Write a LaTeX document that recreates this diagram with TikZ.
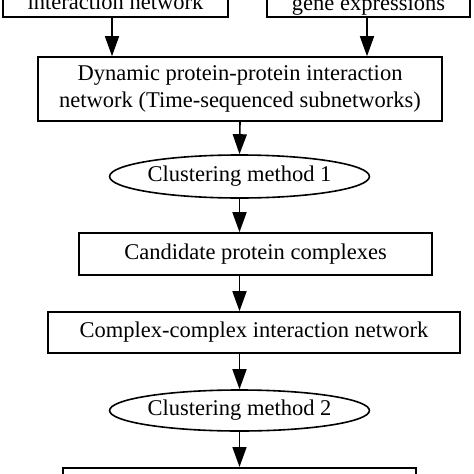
\documentclass[tikz,border=0pt]{standalone}
\usepackage{fontspec}
\setmainfont{Liberation Serif}
\usetikzlibrary{shapes.geometric,arrows.meta}
\begin{document}
\begin{tikzpicture}[x=1pt,y=-1pt,
  font=\fontsize{22.5}{27}\selectfont,
  box/.style={draw,line width=1.6pt,rectangle,inner sep=0pt,align=center},
  oval/.style={draw,line width=1.6pt,ellipse,inner sep=0pt,minimum width=257pt},
  arr/.style={line width=1.6pt,-{Triangle[length=20pt,width=14pt]}}]
\useasboundingbox (0,0) rectangle (474,474);
\node[box,minimum width=225pt,text height=40pt,text depth=7.5pt,anchor=south] (in1) at (115.5,18) {interaction network};
\node[box,minimum width=203pt,text height=40pt,text depth=7pt,anchor=south] (in2) at (368.5,18) {gene expressions};
\node[box,minimum width=404pt,minimum height=64pt] (dyn) at (240,89) {Dynamic protein-protein interaction\\network (Time-sequenced subnetworks)};
\node[oval,minimum height=43pt] (cm1) at (239.5,176.5) {Clustering method 1};
\node[box,minimum width=353pt,minimum height=42pt] (cand) at (255.5,254) {Candidate protein complexes};
\node[box,minimum width=412pt,minimum height=41pt] (comp) at (254,332.5) {Complex-complex interaction network};
\node[oval,minimum height=41pt] (cm2) at (239.5,410.5) {Clustering method 2};
\node[box,minimum width=353pt,minimum height=40pt,anchor=north] (fin) at (239.5,467) {};
\draw[arr] ([xshift=-3.5pt]in1.south) -- ([xshift=-3.5pt]in1.south |- dyn.north);
\draw[arr] ([xshift=-1.5pt]in2.south) -- ([xshift=-1.5pt]in2.south |- dyn.north);
\draw[arr] (dyn.south) -- (cm1.north);
\draw[arr] (cm1.south) -- (cm1.south |- cand.north);
\draw[arr] (cm1.south |- cand.south) -- (cm1.south |- comp.north);
\draw[arr] (cm1.south |- comp.south) -- (cm2.north);
\draw[arr] (cm2.south) -- (cm2.south |- fin.north);
\end{tikzpicture}
\end{document}
